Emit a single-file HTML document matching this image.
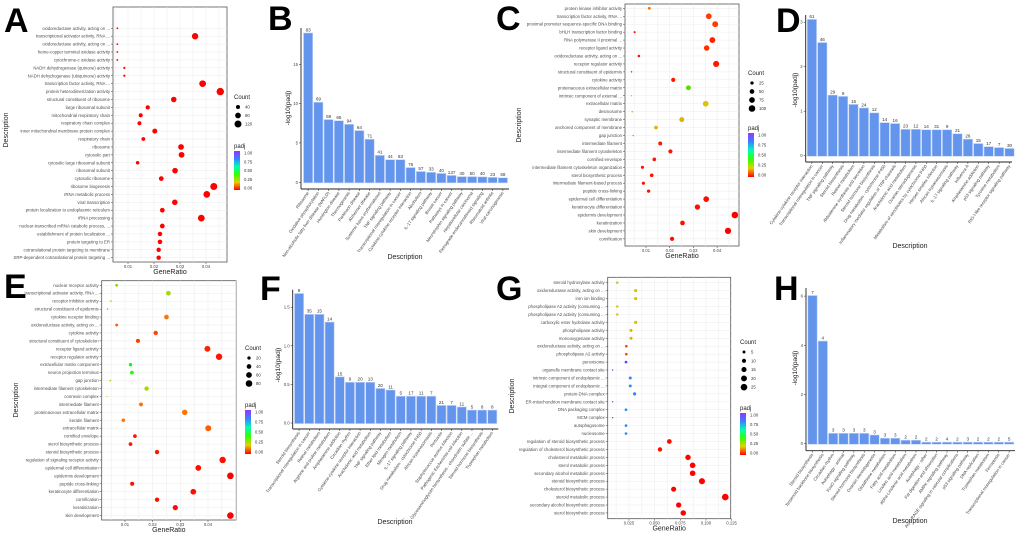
<!DOCTYPE html>
<html><head><meta charset="utf-8"><style>
html,body{margin:0;padding:0;background:#fff;}
svg{display:block;font-family:"Liberation Sans",sans-serif;}
</style></head><body>
<svg id="fig" width="1020" height="537" viewBox="0 0 1020 537" xmlns="http://www.w3.org/2000/svg">
<defs>
<linearGradient id="padjGrad" x1="0" y1="1" x2="0" y2="0">
<stop offset="0" stop-color="hsl(0,100%,50%)"/><stop offset="0.2" stop-color="hsl(54,100%,45%)"/><stop offset="0.4" stop-color="hsl(108,100%,50%)"/><stop offset="0.6" stop-color="hsl(162,100%,50%)"/><stop offset="0.8" stop-color="hsl(216,100%,60%)"/><stop offset="1" stop-color="hsl(270,100%,60%)"/>
</linearGradient>
</defs>
</svg>
<script>
// ---------- Panel A data ----------
const aLabels=["oxidoreductase activity, acting on ...","transcriptional activator activity, RNA ...","oxidoreductase activity, acting on ...","heme-copper terminal oxidase activity","cytochrome-c oxidase activity","NADH dehydrogenase (quinone) activity","NADH dehydrogenase (ubiquinone) activity","transcription factor activity, RNA ...","protein heterodimerization activity","structural constituent of ribosome","large ribosomal subunit","mitochondrial respiratory chain","respiratory chain complex","inner mitochondrial membrane protein complex","respiratory chain","ribosome","cytosolic part","cytosolic large ribosomal subunit","ribosomal subunit","cytosolic ribosome","ribosome biogenesis","rRNA metabolic process","viral transcription","protein localization to endoplasmic reticulum","rRNA processing","nuclear-transcribed mRNA catabolic process, ...","establishment of protein localization ...","protein targeting to ER","cotranslational protein targeting to membrane","SRP-dependent cotranslational protein targeting ..."];
const aRatio=[0.0059,0.0358,0.0059,0.0059,0.0059,0.0086,0.0086,0.0387,0.0455,0.0276,0.0176,0.0149,0.0144,0.0203,0.0159,0.0304,0.0306,0.0137,0.0281,0.0228,0.0430,0.0403,0.0280,0.0232,0.0382,0.0232,0.0223,0.0223,0.0218,0.0218];
const aCount=[8,100,8,8,8,12,12,110,135,75,45,40,38,60,35,80,82,30,78,55,120,110,75,55,110,55,50,50,48,48];
const aPadj=[0,0,0,0,0,0,0,0,0,0,0,0,0,0,0,0,0,0,0,0,0,0,0,0,0,0,0,0,0,0];
const aTicks=[0.01,0.02,0.03,0.04];
const aLegendCounts=[40,80,120];
// ---------- Panel B data ----------
const bLabels=["Ribosome","Oxidative phosphorylation","Non-alcoholic fatty liver disease (NAFLD)","Huntington disease","Thermogenesis","Parkinson disease","Alzheimer disease","Systemic lupus erythematosus","TNF signaling pathway","Transcriptional misregulation in cancer","Cytokine-cytokine receptor interaction","Alcoholism","IL-17 signaling pathway","Breast cancer","Pathways in cancer","Neurotrophin signaling pathway","Hepatocellular carcinoma","Retrograde endocannabinoid signaling","Rheumatoid arthritis","Viral carcinogenesis"];
const bValues=[18.9,10.1,7.9,7.75,7.3,6.5,5.4,3.35,2.8,2.8,1.8,1.3,1.2,1.05,0.8,0.65,0.65,0.62,0.55,0.5];
const bCounts=[83,69,69,65,94,64,71,41,44,63,76,57,33,40,137,40,50,40,23,58];
const bTicks=[0,5,10,15];
// ---------- Panel C data ----------
const cLabels=["protein kinase inhibitor activity","transcription factor activity, RNA ...","proximal promoter sequence-specific DNA binding","bHLH transcription factor binding","RNA polymerase II proximal ...","receptor ligand activity","oxidoreductase activity, acting on ...","receptor regulator activity","structural constituent of epidermis","cytokine activity","proteinaceous extracellular matrix","intrinsic component of external ...","extracellular matrix","desmosome","synaptic membrane","anchored component of membrane","gap junction","intermediate filament","intermediate filament cytoskeleton","cornified envelope","intermediate filament cytoskeleton organization","sterol biosynthetic process","intermediate filament-based process","peptide cross-linking","epidermal cell differentiation","keratinocyte differentiation","epidermis development","keratinization","skin development","cornification"];
const cRatio=[0.0114,0.0365,0.0392,0.0052,0.038,0.0356,0.007,0.0396,0.0039,0.0215,0.0279,0.0038,0.0352,0.0042,0.0251,0.0142,0.0046,0.016,0.0203,0.0135,0.0085,0.0124,0.0089,0.0111,0.0354,0.0317,0.0475,0.0254,0.0446,0.021];
const cCount=[20,75,80,10,78,70,15,85,5,40,55,4,75,6,55,30,6,35,40,30,22,30,22,25,75,65,100,50,90,40];
const cPadj=[0.1,0.05,0.05,0.01,0.03,0.04,0.01,0.02,0.01,0.02,0.35,0.3,0.2,0.18,0.18,0.18,0.12,0.02,0.02,0.02,0.01,0.01,0.01,0.01,0.01,0.01,0.0,0.01,0.0,0.01];
const cTicks=[0.01,0.02,0.03,0.04];
const cLegendCounts=[25,50,75,100];
// ---------- Panel D data ----------
const dLabels=["Cytokine-cytokine receptor interaction","Transcriptional misregulation in cancer","TNF signaling pathway","Steroid biosynthesis","Retinol metabolism","Aldosterone synthesis and secretion","Steroid hormone biosynthesis","Drug metabolism - cytochrome P450","Inflammatory mediator regulation of TRP channels","Arachidonic acid metabolism","Ovarian steroidogenesis","Metabolism of xenobiotics by cytochrome P450","Herpes simplex infection","African trypanosomiasis","IL-17 signaling pathway","Influenza A","Amphetamine addiction","p53 signaling pathway","Tyrosine metabolism","RIG-I-like receptor signaling pathway"];
const dValues=[3.05,2.53,1.35,1.32,1.14,1.06,0.95,0.73,0.71,0.58,0.58,0.57,0.57,0.57,0.48,0.36,0.26,0.19,0.17,0.15];
const dCounts=[61,46,29,9,16,24,12,14,16,23,12,14,31,9,21,26,15,17,7,30];
const dTicks=[0,1,2,3];
// ---------- Panel E data ----------
const eLabels=["nuclear receptor activity","transcriptional activator activity, RNA ...","receptor inhibitor activity","structural constituent of epidermis","cytokine receptor binding","oxidoreductase activity, acting on ...","cytokine activity","structural constituent of cytoskeleton","receptor ligand activity","receptor regulator activity","extracellular matrix component","neuron projection terminus","gap junction","intermediate filament cytoskeleton","connexin complex","intermediate filament","proteinaceous extracellular matrix","keratin filament","extracellular matrix","cornified envelope","sterol biosynthetic process","steroid biosynthetic process","regulation of signaling receptor activity","epidermal cell differentiation","epidermis development","peptide cross-linking","keratinocyte differentiation","cornification","keratinization","skin development"];
const eRatio=[0.007,0.0257,0.0049,0.0037,0.025,0.007,0.0211,0.0147,0.0398,0.044,0.012,0.0125,0.0047,0.0178,0.0035,0.0158,0.0316,0.0094,0.0401,0.0136,0.012,0.0216,0.0453,0.0365,0.0481,0.0126,0.0347,0.0216,0.0282,0.0481];
const eCount=[15,40,6,4,40,15,35,30,65,75,20,25,5,35,3,28,55,22,65,25,25,35,75,60,80,30,60,35,50,80];
const ePadj=[0.3,0.28,0.2,0.12,0.1,0.08,0.06,0.05,0.03,0.02,0.45,0.42,0.3,0.28,0.22,0.1,0.1,0.1,0.08,0.02,0.02,0.02,0.01,0.01,0.0,0.01,0.01,0.01,0.01,0.0];
const eTicks=[0.01,0.02,0.03,0.04];
const eLegendCounts=[20,40,60,80];
// ---------- Panel F data ----------
const fLabels=["Steroid biosynthesis","Transcriptional misregulation in cancer","Retinol metabolism","Arginine and proline metabolism","Amphetamine addiction","Circadian rhythm","Cytokine-cytokine receptor interaction","Arachidonic acid metabolism","TNF signaling pathway","Ether lipid metabolism","Nitrogen metabolism","IL-17 signaling pathway","Drug metabolism - cytochrome P450","African trypanosomiasis","Pertussis","Staphylococcus aureus infection","Pathogenic Escherichia coli infection","Glycosaminoglycan biosynthesis - chondroitin sulfate ...","Steroid hormone biosynthesis","Tryptophan metabolism"];
const fValues=[1.67,1.40,1.40,1.30,0.59,0.52,0.52,0.52,0.44,0.42,0.34,0.34,0.34,0.34,0.22,0.22,0.20,0.16,0.16,0.16];
const fCounts=[9,35,15,14,15,9,20,13,20,11,5,17,11,7,21,7,11,5,8,8];
const fTicks=[0,0.5,1.0,1.5];
// ---------- Panel G data ----------
const gLabels=["steroid hydroxylase activity","oxidoreductase activity, acting on ...","iron ion binding","phospholipase A2 activity (consuming ...","phospholipase A2 activity (consuming ...","carboxylic ester hydrolase activity","phospholipase activity","monooxygenase activity","oxidoreductase activity, acting on ...","phospholipase A2 activity","peroxisome","organelle membrane contact site","intrinsic component of endoplasmic ...","integral component of endoplasmic ...","protein-DNA complex","ER-mitochondrion membrane contact site","DNA packaging complex","MCM complex","autophagosome","nucleosome","regulation of steroid biosynthetic process","regulation of cholesterol biosynthetic process","cholesterol metabolic process","sterol metabolic process","secondary alcohol metabolic process","steroid biosynthetic process","cholesterol biosynthetic process","steroid metabolic process","secondary alcohol biosynthetic process","sterol biosynthetic process"];
const gRatio=[0.0136,0.0315,0.0315,0.0136,0.0136,0.0315,0.027,0.027,0.0224,0.0224,0.0221,0.0091,0.0263,0.0263,0.0305,0.0091,0.0221,0.0091,0.0221,0.0221,0.0643,0.0552,0.0825,0.087,0.087,0.0961,0.0685,0.1188,0.0734,0.0779];
const gCount=[3,6,6,3,3,6,5,5,4,4,4,1,5,5,6,1,4,1,4,4,13,11,17,18,18,21,15,25,16,17];
const gPadj=[0.3,0.2,0.2,0.18,0.18,0.2,0.18,0.18,0.06,0.06,0.95,0.9,0.8,0.8,0.8,0.85,0.8,0.85,0.8,0.8,0.01,0.01,0.0,0.0,0.0,0.0,0.0,0.0,0.0,0.0];
const gTicks=[0.025,0.05,0.075,0.1,0.125];
const gLegendCounts=[5,10,15,20,25];
// ---------- Panel H data ----------
const hLabels=["Steroid biosynthesis","Terpenoid backbone biosynthesis","Circadian rhythm","Autophagy - animal","FoxO signaling pathway","Steroid hormone biosynthesis","Ovarian steroidogenesis","Glutathione metabolism","Fatty acid metabolism","Linoleic acid metabolism","alpha-Linolenic acid metabolism","Autophagy - other","Fat digestion and absorption","AMPK signaling pathway","AGE-RAGE signaling in vascular complications","p53 signaling pathway","DNA replication","Tryptophan metabolism","Ferroptosis","Transcriptional misregulation in cancer"];
const hValues=[6.0,4.15,0.4,0.4,0.4,0.4,0.33,0.2,0.2,0.12,0.12,0.04,0.04,0.04,0.04,0.04,0.04,0.04,0.04,0.04];
const hCounts=[7,4,3,3,3,3,3,3,3,2,2,2,2,4,2,3,2,2,2,5];
const hTicks=[0,2,4,6];

const NS="http://www.w3.org/2000/svg";
const svg=document.getElementById('fig');
function mk(tag,attrs,parent,text){const e=document.createElementNS(NS,tag);for(const k in attrs)e.setAttribute(k,attrs[k]);if(text!==undefined)e.textContent=text;(parent||svg).appendChild(e);return e;}
function padjColor(p){const h=p*270;const l=(h>35&&h<95)?43:(h>180?60:50);return 'hsl('+h.toFixed(0)+',100%,'+l+'%)';}
function fmt(v){return v.toFixed(v<0.1&&v>0&&String(v).length>4?3:2);}

function panelLetter(letter,x,y){
  const t=mk('text',{x:x,y:y,'font-size':34,'font-weight':'bold',fill:'#000'},svg,letter);
  
  
}

function dotPlot(id,L,labels,ratios,counts,padjs,ticks,legendCounts){
  const g=mk('g',{});
  
  
  const xs=v=>L.x0+v*L.k;
  const ys=i=>L.rowY0+i*L.rowStep;
  mk('rect',{x:L.bx,y:L.by,width:L.bw,height:L.bh,fill:'#fff',stroke:'#555','stroke-width':0.8},g);
  // grid
  for(let i=0;i<labels.length;i++) mk('line',{x1:L.bx,x2:L.bx+L.bw,y1:ys(i),y2:ys(i),stroke:'#ebebeb','stroke-width':0.5},g);
  const step=ticks[1]-ticks[0];
  for(let t=ticks[0]-step/2;xs(t)<L.bx+L.bw;t+=step/2){if(xs(t)>L.bx) mk('line',{x1:xs(t),x2:xs(t),y1:L.by,y2:L.by+L.bh,stroke:'#ebebeb','stroke-width':0.5},g);}
  ticks.forEach(t=>{
    mk('line',{x1:xs(t),x2:xs(t),y1:L.by+L.bh,y2:L.by+L.bh+2,stroke:'#333','stroke-width':0.5},g);
    const tt=mk('text',{x:xs(t),y:L.by+L.bh+6,'font-size':4.2,'text-anchor':'middle',fill:'#444'},g,String(t<0.1&&ticks[0]===0.025?t.toFixed(3):t.toFixed(t>=0.1&&ticks[0]===0.025?3:2)));
    
    
  });
  labels.forEach((lab,i)=>{
    mk('line',{x1:L.bx-2,x2:L.bx,y1:ys(i),y2:ys(i),stroke:'#333','stroke-width':0.5},g);
    const t=mk('text',{x:L.bx-3,y:ys(i)+1.5,'font-size':4.3,'text-anchor':'end',fill:'#4d4d4d'},g,lab);
    
    
  });
  for(let i=0;i<labels.length;i++){
    const c=mk('circle',{cx:xs(ratios[i]),cy:ys(i),r:L.a*Math.sqrt(counts[i]),fill:padjColor(padjs[i])},g);
    
    
  }
  const xt=mk('text',{x:L.bx+L.bw/2,y:L.by+L.bh+12,'font-size':7,'text-anchor':'middle',fill:'#222'},g,'GeneRatio');
  
  
  const yt=mk('text',{x:0,y:0,'font-size':7,'text-anchor':'middle',fill:'#222',transform:'translate('+L.descX+','+L.descY+') rotate(-90)'},g,'Description');
  
  
  // legend
  const lg=mk('g',{},g);
  
  
  mk('text',{x:L.lx,y:L.ly,'font-size':6,fill:'#222'},lg,'Count');
  legendCounts.forEach((c,i)=>{
    const yy=L.ly+8+i*L.lstep;
    const ci=mk('circle',{cx:L.lx+4,cy:yy,r:L.a*Math.sqrt(c),fill:'#000'},lg);
    
    
    mk('text',{x:L.lx+11,y:yy+1.5,'font-size':4.3,fill:'#333'},lg,String(c));
  });
  mk('text',{x:L.lx,y:L.cy-3,'font-size':6,fill:'#222'},lg,'padj');
  const cb=mk('rect',{x:L.lx,y:L.cy,width:6,height:L.ch,fill:'url(#padjGrad)'},lg);
  
  
  ['1.00','0.75','0.50','0.25','0.00'].forEach((s,i)=>{
    const yy=L.cy+2+i*(L.ch-4)/4;
    mk('text',{x:L.lx+10,y:yy+1.5,'font-size':4.2,fill:'#333'},lg,s);
  });
}

function barPlot(id,L,labels,values,counts,ticks){
  const g=mk('g',{});
  
  
  const ys=v=>L.base-v*L.k;
  mk('line',{x1:L.ax,x2:L.ax,y1:L.top,y2:L.bottom,stroke:'#222','stroke-width':0.9},g);
  mk('line',{x1:L.ax,x2:L.right,y1:L.bottom,y2:L.bottom,stroke:'#222','stroke-width':0.9},g);
  ticks.forEach(t=>{
    mk('line',{x1:L.ax-2,x2:L.ax,y1:ys(t),y2:ys(t),stroke:'#222','stroke-width':0.5},g);
    const tt=mk('text',{x:L.ax-3,y:ys(t)+1.5,'font-size':4.3,'text-anchor':'end',fill:'#444'},g,L.tickFmt(t));
    
    
  });
  values.forEach((v,i)=>{
    const cx=L.start+L.slot*(i+0.5);
    const b=mk('rect',{x:cx-L.slot/2+0.5,y:ys(v)-0.6,width:L.slot-1,height:Math.max(L.base-ys(v)+1.2,1),fill:'#6495ED',stroke:'#c9d8f8','stroke-width':0.6},g);
    
    
    const vt=mk('text',{x:cx,y:ys(v)-2.2,'font-size':4.6,'text-anchor':'middle',fill:'#333'},g,String(counts[i]));
    
    
    mk('line',{x1:cx,x2:cx,y1:L.bottom,y2:L.bottom+2,stroke:'#222','stroke-width':0.5},g);
    const lt=mk('text',{x:0,y:0,'font-size':4.3,'text-anchor':'end',fill:'#444',transform:'translate('+(cx+1)+','+(L.bottom+4)+') rotate(-55)'},g,labels[i]);
    
    
  });
  const yt=mk('text',{x:0,y:0,'font-size':6.5,'text-anchor':'middle',fill:'#222',transform:'translate('+L.ytX+','+L.ytY+') rotate(-90)'},g,'-log10(padj)');
  
  
  const xt=mk('text',{x:L.descX,y:L.descY,'font-size':7,'text-anchor':'middle',fill:'#222'},g,'Description');
  
  
}

const f1=t=>String(t), f2=t=>t.toFixed(1);
dotPlot('a',{bx:113,by:7,bw:114,bh:255,x0:102,k:2600,rowY0:28.3,rowStep:7.91,a:0.32,descX:8,descY:130,lx:234,ly:99,lstep:8.5,cy:151,ch:39},aLabels,aRatio,aCount,aPadj,aTicks,aLegendCounts);
barPlot('b',{ax:301,base:182.3,k:7.87,top:28,bottom:189,right:509,start:303,slot:10.25,tickFmt:f1,ytX:290,ytY:108,descX:405,descY:259},bLabels,bValues,bCounts,bTicks);
dotPlot('c',{bx:625,by:4,bw:114,bh:242,x0:622.3,k:2370,rowY0:8.3,rowStep:7.95,a:0.33,descX:521,descY:125,lx:748,ly:75,lstep:8.5,cy:133,ch:44},cLabels,cRatio,cCount,cPadj,cTicks,cLegendCounts);
barPlot('d',{ax:805.7,base:155.7,k:44.5,top:15,bottom:162,right:1012,start:806.7,slot:10.4,tickFmt:f1,ytX:797,ytY:90,descX:910,descY:248},dLabels,dValues,dCounts,dTicks);
dotPlot('e',{bx:101.7,by:280.7,bw:134.3,bh:239.3,x0:97.3,k:2767,rowY0:285.3,rowStep:7.94,a:0.37,descX:18,descY:400,lx:245,ly:350,lstep:8.5,cy:410,ch:44},eLabels,eRatio,eCount,ePadj,eTicks,eLegendCounts);
barPlot('f',{ax:292.7,base:423,k:77.2,top:289.7,bottom:429,right:498.3,start:294,slot:10.17,tickFmt:f2,ytX:280,ytY:365,descX:395,descY:524},fLabels,fValues,fCounts,fTicks);
dotPlot('g',{bx:607.7,by:277.3,bw:123,bh:241.4,x0:603.3,k:1026.7,rowY0:282.7,rowStep:7.94,a:0.66,descX:514,descY:396,lx:740,ly:344,lstep:8.8,cy:413,ch:42},gLabels,gRatio,gCount,gPadj,gTicks,gLegendCounts);
barPlot('h',{ax:806,base:443.7,k:24.6,top:288,bottom:450.7,right:1015,start:807.3,slot:10.35,tickFmt:f1,ytX:797,ytY:368,descX:910,descY:523},hLabels,hValues,hCounts,hTicks);

panelLetter('A',4,32);panelLetter('B',268,30);panelLetter('C',496,30);panelLetter('D',776,32);
panelLetter('E',4,298);panelLetter('F',260,300);panelLetter('G',496,300);panelLetter('H',774,300);
</script>
</body></html>
